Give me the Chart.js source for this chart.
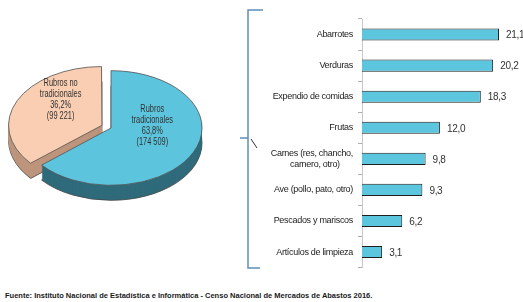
<!DOCTYPE html>
<html>
<head>
<meta charset="utf-8">
<script src="https://cdn.jsdelivr.net/npm/chart.js@4.4.1/dist/chart.umd.min.js"></script>
<style>
  body { margin: 0; background: #fff; width: 523px; height: 302px; position: relative; overflow: hidden; }
  #pie-chart { position: absolute; left: 0; top: 0; }
  #bar-chart { position: absolute; left: 240px; top: 0; }
  #source {
    position: absolute; left: 5px; top: 291px;
    font: bold 7.5px "Liberation Sans", Arial, sans-serif; color: #1a1a1a; white-space: nowrap;
  }
</style>
</head>
<body>
<canvas id="pie-chart" width="235" height="270"></canvas>
<canvas id="bar-chart" width="283" height="278"></canvas>
<div id="source">Fuente: Instituto Nacional de Estadística e Informática - Censo Nacional de Mercados de Abastos 2016.</div>
<script>
// pie data
const pieLabels = [
  ["Rubros", "tradicionales", "63,8%", "(174 509)"],
  ["Rubros no", "tradicionales", "36,2%", "(99 221)"],
];
const pieValues = [63.8, 36.2];
const pieColors = ["#5cc4dc", "#f9ceb3"];
const pieSideColors = ["#2f6b7b", "#bd957c"];

// bar data
const barLabels = [
  "Abarrotes",
  "Verduras",
  "Expendio de comidas",
  "Frutas",
  ["Carnes (res, chancho,", "carnero, otro)\u00a0\u00a0\u00a0\u00a0\u00a0\u00a0"],
  "Ave (pollo, pato, otro)",
  "Pescados y mariscos",
  "Artículos de limpieza",
];
const barValues = [21.1, 20.2, 18.3, 12.0, 9.8, 9.3, 6.2, 3.1];

const FONT = '"Liberation Sans", Arial, sans-serif';

// squashed 3D look for the pie
const squash = 0.63;
const depth = 15;
const pieCenter = { x: 111, y: 128 };

// same geometry as Chart.js ArcElement.draw (offset / 4 translation)
function wedgePath(ctx, arc) {
  const mid = (arc.startAngle + arc.endAngle) / 2;
  const off = (arc.options.offset || 0) / 4;
  const fix = 1 - Math.sin(Math.min(Math.PI, arc.circumference || 0));
  const r = arc.outerRadius + off * fix;
  const x = arc.x + Math.cos(mid) * off;
  const y = arc.y + Math.sin(mid) * off;
  ctx.beginPath();
  ctx.moveTo(x, y);
  ctx.arc(x, y, r, arc.startAngle, arc.endAngle);
  ctx.closePath();
}

function applySquash(ctx, arc, dy) {
  ctx.translate(pieCenter.x, pieCenter.y + dy);
  ctx.scale(1, squash);
  ctx.translate(-arc.x, -arc.y);
}

const pie3d = {
  id: "pie3d",
  beforeDatasetsDraw(chart) {
    const ctx = chart.ctx;
    const arcs = chart.getDatasetMeta(0).data;
    // back slice first, front slice last
    [1, 0].forEach((i) => {
      const arc = arcs[i];
      for (let d = depth; d >= 1; d--) {
        ctx.save();
        applySquash(ctx, arc, d);
        wedgePath(ctx, arc);
        ctx.fillStyle = pieSideColors[i];
        ctx.fill();
        if (d === depth) {
          ctx.lineWidth = 1;
          ctx.strokeStyle = "#444";
          ctx.stroke();
        }
        ctx.restore();
      }
    });
    ctx.save();
    applySquash(ctx, arcs[0], 0);
  },
  afterDatasetsDraw(chart) {
    const ctx = chart.ctx;
    ctx.restore();
    const arcs = chart.getDatasetMeta(0).data;
    ctx.save();
    ctx.font = "10px " + FONT;
    ctx.fillStyle = "#333";
    ctx.textAlign = "center";
    ctx.textBaseline = "middle";
    arcs.forEach((arc, i) => {
      const mid = (arc.startAngle + arc.endAngle) / 2;
      const off = (arc.options.offset || 0) / 4;
      const r = arc.outerRadius * 0.5 + off;
      const cx = pieCenter.x + Math.cos(mid) * r;
      const cy = pieCenter.y + Math.sin(mid) * r * squash - 14;
      const lines = pieLabels[i];
      const lh = 11;
      lines.forEach((t, k) => {
        ctx.save();
        ctx.translate(cx, cy + (k - (lines.length - 1) / 2) * lh);
        ctx.scale(0.74, 1);
        ctx.fillText(t, 0, 0);
        ctx.restore();
      });
    });
    ctx.restore();
  },
};

new Chart(document.getElementById("pie-chart"), {
  type: "pie",
  data: {
    labels: pieLabels.map((l) => l.join(" ")),
    datasets: [
      {
        data: pieValues,
        backgroundColor: pieColors,
        borderColor: "#555",
        borderWidth: 1,
        offset: [0, 40],
        radius: 91,
        clip: false,
      },
    ],
  },
  options: {
    responsive: false,
    animation: false,
    plugins: { legend: { display: false }, tooltip: { enabled: false } },
  },
  plugins: [pie3d],
});

// brace at the left of the bars and value labels after each bar
const braceAndValues = {
  id: "braceAndValues",
  beforeUpdate(chart) {
    chart.ctx.letterSpacing = "-0.3px";
  },
  beforeDraw(chart) {
    const ctx = chart.ctx;
    ctx.letterSpacing = "-0.3px";
    ctx.save();
    ctx.strokeStyle = "#5d8fb8";
    ctx.lineWidth = 1.5;
    ctx.beginPath();
    ctx.moveTo(23, 10);
    ctx.lineTo(8, 10);
    ctx.lineTo(8, 268);
    ctx.lineTo(20, 268);
    ctx.moveTo(0, 138);
    ctx.lineTo(8, 138);
    ctx.stroke();
    ctx.lineWidth = 1;
    ctx.strokeStyle = "#333";
    ctx.beginPath();
    ctx.moveTo(11, 139);
    ctx.lineTo(17, 148);
    ctx.stroke();
    ctx.restore();
  },
  afterDatasetsDraw(chart) {
    const ctx = chart.ctx;
    const bars = chart.getDatasetMeta(0).data;
    ctx.save();
    ctx.font = "10px " + FONT;
    ctx.fillStyle = "#333";
    ctx.textAlign = "left";
    ctx.textBaseline = "middle";
    bars.forEach((bar, i) => {
      ctx.fillText(barValues[i].toFixed(1).replace(".", ","), bar.x + 7, bar.y + 1);
    });
    ctx.restore();
  },
};

new Chart(document.getElementById("bar-chart"), {
  type: "bar",
  data: {
    labels: barLabels,
    datasets: [
      {
        data: barValues,
        backgroundColor: "#5cc6de",
        borderColor: "#1e1e1e",
        borderWidth: 1,
        borderSkipped: "left",
        barPercentage: 0.39,
        categoryPercentage: 1,
      },
    ],
  },
  options: {
    indexAxis: "y",
    responsive: false,
    animation: false,
    layout: { padding: { top: 19, bottom: 8, right: 0 } },
    plugins: { legend: { display: false }, tooltip: { enabled: false } },
    scales: {
      x: { display: false, min: 0, max: 24.8 },
      y: {
        afterFit: (scale) => { scale.width = 122; },
        border: { color: "#c8c8c8" },
        grid: { offset: true, drawOnChartArea: false, tickLength: 4, color: "#b0b0b0" },
        ticks: { color: "#222", padding: 5, font: { size: 9, family: FONT } },
      },
    },
  },
  plugins: [braceAndValues],
});
</script>
</body>
</html>
